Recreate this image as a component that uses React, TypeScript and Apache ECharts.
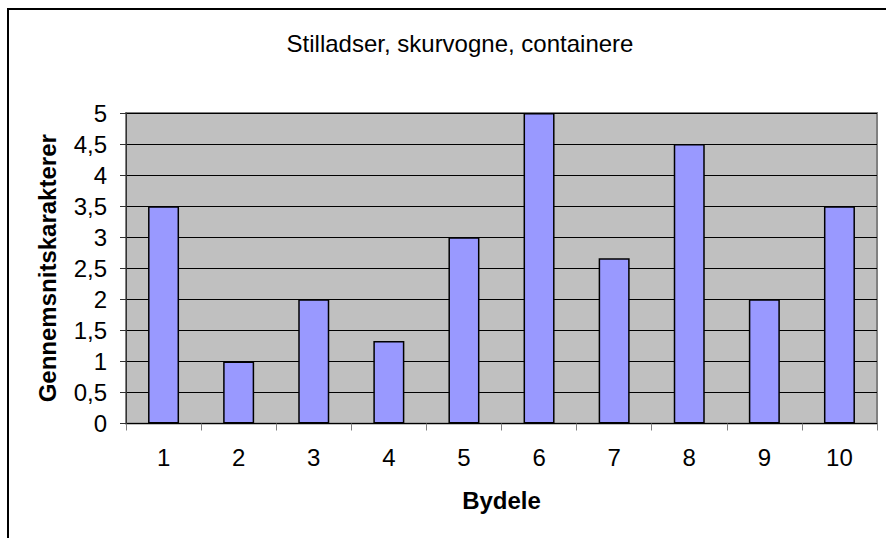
import React, { useEffect, useRef } from "react";
import * as echarts from "echarts";

const categories = ["1", "2", "3", "4", "5", "6", "7", "8", "9", "10"];
const values = [3.5, 1, 2, 1.33, 3, 5, 2.66, 4.5, 2, 3.5];
const titleText = "Stilladser, skurvogne, containere";
const yName = "Gennemsnitskarakterer";
const xName = "Bydele";

export default function App() {
  const ref = useRef<HTMLDivElement>(null);
  useEffect(() => {
    if (!ref.current) return;
    const chart = echarts.init(ref.current, null, { renderer: "svg" });
    const font = "Liberation Sans, Arial, sans-serif";
    chart.setOption({
      animation: false,
      backgroundColor: "#ffffff",
      title: {
        text: titleText,
        left: 455,
        textAlign: "center",
        top: 26,
        textStyle: { fontFamily: font, fontSize: 24, fontWeight: "normal", color: "#000" },
      },
      graphic: [
        {
          type: "rect",
          shape: { x: 8, y: 9, width: 900, height: 560 },
          style: { fill: "none", stroke: "#000", lineWidth: 2 },
          silent: true,
          z: 100,
        },
      ],
      grid: {
        left: 126,
        top: 113,
        right: 9,
        bottom: 114.5,
        show: true,
        backgroundColor: "#c0c0c0",
        borderColor: "#808080",
        borderWidth: 2,
      },
      xAxis: {
        type: "category",
        data: categories,
        name: xName,
        nameLocation: "middle",
        nameGap: 65,
        nameTextStyle: { fontFamily: font, fontSize: 24, fontWeight: "bold", color: "#000" },
        axisLine: { show: true, lineStyle: { color: "#000", width: 1 } },
        axisTick: { show: true, length: 7, lineStyle: { color: "#808080" } },
        axisLabel: { fontFamily: font, fontSize: 24, color: "#000", margin: 22 },
        splitLine: { show: false },
      },
      yAxis: {
        type: "value",
        min: 0,
        max: 5,
        interval: 0.5,
        name: yName,
        nameLocation: "middle",
        nameGap: 67,
        nameRotate: 90,
        nameTextStyle: { fontFamily: font, fontSize: 24, fontWeight: "bold", color: "#000" },
        axisLine: { show: true, lineStyle: { color: "#333", width: 1 } },
        axisTick: { show: true, length: 6, lineStyle: { color: "#333" } },
        axisLabel: {
          fontFamily: font,
          fontSize: 24,
          color: "#000",
          margin: 19,
          formatter: (v: number) => String(v).replace(".", ","),
        },
        splitLine: { show: true, lineStyle: { color: "#000", width: 1 } },
      },
      series: [
        {
          type: "bar",
          data: values,
          barWidth: 31,
          itemStyle: { color: "#9999ff", borderColor: "#000", borderWidth: 1.5 },
        },
      ],
    });
    return () => chart.dispose();
  }, []);
  return (
    <div
      ref={ref}
      style={{ position: "fixed", left: 0, top: 0, width: 886, height: 538 }}
    />
  );
}
